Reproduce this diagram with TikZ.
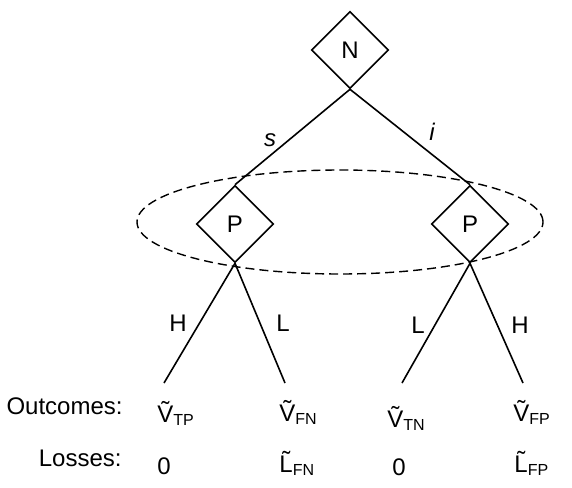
\documentclass[tikz,border=0pt]{standalone}
\usepackage{fontspec}
\setmainfont{Liberation Sans}
\usetikzlibrary{shapes.geometric}

\begin{document}
\begin{tikzpicture}[x=0.5pt,y=-0.5pt,font=\fontsize{12}{14}\selectfont,
  dec/.style={draw,diamond,aspect=1,inner sep=0pt,minimum size=38.5pt,line width=0.8pt},
  br/.style={line width=0.8pt},
  lbl/.style={inner sep=0pt},
  txt/.style={inner sep=0pt,anchor=base west}]
  \useasboundingbox (0,0) rectangle (572,487);
  \node[dec] (n) at (350,50) {N};
  \node[dec] (pl) at (235,224) {P};
  \node[dec] (pr) at (470,224) {P};
  \draw[dashed,line width=0.7pt,dash pattern=on 4.5pt off 2.5pt] (340,222) ellipse [x radius=101.5pt,y radius=26pt];
  \coordinate (tp) at (164,383); \coordinate (fn) at (285,383);
  \coordinate (tn) at (402,383); \coordinate (fp) at (523,383);
  \draw[br] (n.south)--(pl.north); \draw[br] (n.south)--(pr.north);
  \draw[br] (pl.south)--(tp); \draw[br] (pl.south)--(fn);
  \draw[br] (pr.south)--(tn); \draw[br] (pr.south)--(fp);
  % branch labels
  \node[lbl] (ls) at (270,140) {\itshape s};
  \node[lbl] (li) at (432,132) {\itshape i};
  \node[lbl] (lh1) at (178,323) {H};
  \node[lbl] (ll1) at (283,323) {L};
  \node[lbl] (ll2) at (418,325) {L};
  \node[lbl] (lh2) at (520,325) {H};
  % outcomes and losses
  \node[inner sep=0pt,anchor=base east] (out) at (123,414) {Outcomes:};
  \node[txt] (vtp) at (157,422) {\~V\textsubscript{TP}};
  \node[txt] (vfn) at (279,421) {\~V\textsubscript{FN}};
  \node[txt] (vtn) at (387,427) {\~V\textsubscript{TN}};
  \node[txt] (vfp) at (513,421) {\~V\textsubscript{FP}};
  \node[inner sep=0pt,anchor=base east] (los) at (122,466) {Losses:};
  \node[txt] (z1) at (157,474) {0};
  \node[txt] (lfn) at (279,472) {\~L\textsubscript{FN}};
  \node[txt] (z2) at (392,475) {0};
  \node[txt] (lfp) at (514,472) {\~L\textsubscript{FP}};
\end{tikzpicture}
\end{document}
